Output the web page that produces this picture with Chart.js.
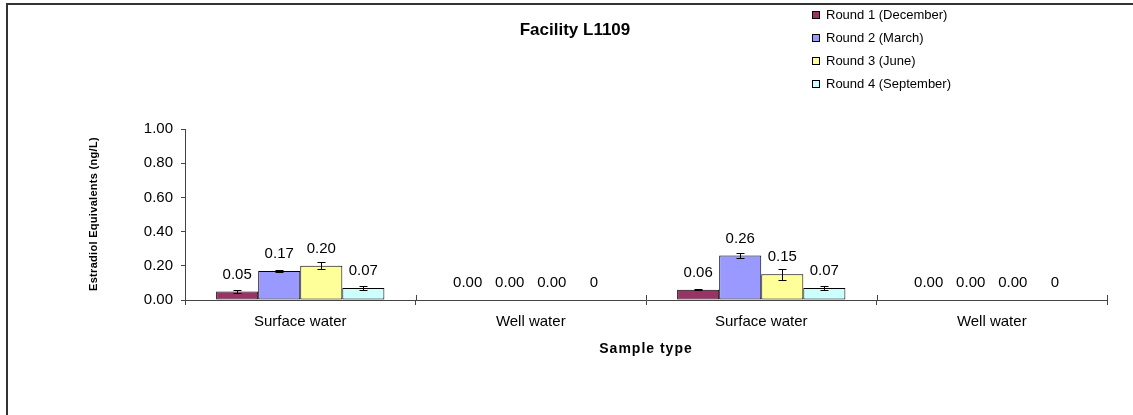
<!DOCTYPE html>
<html>
<head>
<meta charset="utf-8">
<script src="https://cdn.jsdelivr.net/npm/chart.js@4.4.1/dist/chart.umd.min.js"></script>
<style>
    html, body { margin: 0; padding: 0; background: #fff; }
    #wrap { width: 1133px; height: 415px; position: relative; }
</style>
</head>
<body>
<div id="wrap"><canvas id="facility_bar"></canvas></div>
<script>
const categories = ['Surface water', 'Well water', 'Surface water', 'Well water'];
const round_names = ['Round 1 (December)', 'Round 2 (March)', 'Round 3 (June)', 'Round 4 (September)'];
const round_colors = ['#993366', '#9999FF', '#FFFF99', '#CCFFFF'];

// one array per round, one value per category
const round1_values = [0.05, 0, 0.06, 0];
const round2_values = [0.17, 0, 0.26, 0];
const round3_values = [0.20, 0, 0.15, 0];
const round4_values = [0.07, 0, 0.07, 0];

const round1_errors = [0.010, 0, 0.002, 0];
const round2_errors = [0.007, 0, 0.017, 0];
const round3_errors = [0.021, 0, 0.032, 0];
const round4_errors = [0.011, 0, 0.011, 0];

const round1_labels = ['0.05', '0.00', '0.06', '0.00'];
const round2_labels = ['0.17', '0.00', '0.26', '0.00'];
const round3_labels = ['0.20', '0.00', '0.15', '0.00'];
const round4_labels = ['0.07', '0', '0.07', '0'];

const y_ticks = [0, 0.2, 0.4, 0.6, 0.8, 1.0];

const values = [round1_values, round2_values, round3_values, round4_values];
const errors = [round1_errors, round2_errors, round3_errors, round4_errors];
const labels = [round1_labels, round2_labels, round3_labels, round4_labels];

const FONT = "Arial, 'Liberation Sans', sans-serif";

const framePlugin = {
    id: 'frame',
    beforeDraw(chart) {
        const ctx = chart.ctx;
        ctx.save();
        ctx.fillStyle = '#fff';
        ctx.fillRect(0, 0, chart.width, chart.height);
        ctx.strokeStyle = '#333';
        ctx.lineWidth = 2;
        ctx.beginPath();
        ctx.moveTo(7, chart.height);
        ctx.lineTo(7, 4);
        ctx.lineTo(chart.width, 4);
        ctx.stroke();
        ctx.restore();
    }
};

const errorBarPlugin = {
    id: 'errorBars',
    afterDatasetsDraw(chart) {
        const ctx = chart.ctx;
        const y = chart.scales.y;
        ctx.save();
        ctx.strokeStyle = '#000';
        ctx.lineWidth = 1;
        chart.data.datasets.forEach((ds, di) => {
            const meta = chart.getDatasetMeta(di);
            meta.data.forEach((bar, i) => {
                const e = errors[di][i];
                if (!e) return;
                const v = ds.data[i];
                const x = Math.round(bar.x) + 0.5;
                const top = Math.round(y.getPixelForValue(v + e)) + 0.5;
                const bot = Math.round(y.getPixelForValue(v - e)) + 0.5;
                ctx.beginPath();
                ctx.moveTo(x, top); ctx.lineTo(x, bot);
                ctx.moveTo(x - 4, top); ctx.lineTo(x + 4, top);
                ctx.moveTo(x - 4, bot); ctx.lineTo(x + 4, bot);
                ctx.stroke();
            });
        });
        ctx.restore();
    }
};

const valueLabelPlugin = {
    id: 'valueLabels',
    afterDatasetsDraw(chart) {
        const ctx = chart.ctx;
        ctx.save();
        ctx.font = '15px ' + FONT;
        ctx.fillStyle = '#000';
        ctx.textAlign = 'center';
        ctx.textBaseline = 'middle';
        chart.data.datasets.forEach((ds, di) => {
            const meta = chart.getDatasetMeta(di);
            meta.data.forEach((bar, i) => {
                ctx.fillText(labels[di][i], bar.x, bar.y - 17);
            });
        });
        ctx.restore();
    }
};

// x ticks in the original cross the axis line, draw the part above it
const crossTickPlugin = {
    id: 'crossTicks',
    afterDraw(chart) {
        const ctx = chart.ctx;
        const x = chart.scales.x;
        const n = chart.data.labels.length;
        ctx.save();
        ctx.strokeStyle = '#444';
        ctx.lineWidth = 1;
        ctx.beginPath();
        for (let i = 0; i <= n; i++) {
            const px = Math.round(x.left + (x.right - x.left) * i / n) + 0.5;
            ctx.moveTo(px, x.top - 5);
            ctx.lineTo(px, x.top);
        }
        ctx.stroke();
        ctx.restore();
    }
};

const titleLegendPlugin = {
    id: 'titleLegend',
    afterDraw(chart) {
        const ctx = chart.ctx;
        const area = chart.chartArea;
        ctx.save();
        ctx.fillStyle = '#000';
        ctx.font = 'bold 17px ' + FONT;
        ctx.textAlign = 'center';
        ctx.textBaseline = 'middle';
        ctx.fillText('Facility L1109', 575, 30);

        // axis titles
        ctx.font = 'bold 14px ' + FONT;
        ctx.letterSpacing = '1px';
        ctx.fillText('Sample type', (area.left + area.right) / 2, 349);

        ctx.font = 'bold 11px ' + FONT;
        ctx.letterSpacing = '0.3px';
        ctx.translate(94, 214);
        ctx.rotate(-Math.PI / 2);
        ctx.fillText('Estradiol Equivalents (ng/L)', 0, 0);
        ctx.setTransform(1, 0, 0, 1, 0, 0);
        ctx.letterSpacing = '0px';

        ctx.font = '13px ' + FONT;
        ctx.textAlign = 'left';
        chart.data.datasets.forEach((ds, di) => {
            const cy = 15 + di * 23;
            ctx.fillStyle = ds.backgroundColor;
            ctx.fillRect(812.5, cy - 3.5, 7, 7);
            ctx.strokeStyle = '#000';
            ctx.lineWidth = 1;
            ctx.strokeRect(812.5, cy - 3.5, 7, 7);
            ctx.fillStyle = '#000';
            ctx.fillText(ds.label, 826, cy);
        });
        ctx.restore();
    }
};

const facility_bar = document.getElementById('facility_bar').getContext('2d');
new Chart(facility_bar, {
    type: 'bar',
    data: {
        labels: categories,
        datasets: round_names.map((name, di) => ({
            label: name,
            data: values[di],
            backgroundColor: round_colors[di],
            borderColor: '#000',
            borderWidth: 1,
            borderSkipped: false,
            categoryPercentage: 0.73,
            barPercentage: 1.0
        }))
    },
    options: {
        responsive: true,
        maintainAspectRatio: false,
        animation: false,
        layout: {
            padding: { top: 129, left: 88, right: 26, bottom: 57 }
        },
        plugins: {
            legend: { display: false },
            title: { display: false },
            tooltip: { enabled: false }
        },
        scales: {
            x: {
                grid: {
                    display: true,
                    offset: true,
                    drawOnChartArea: false,
                    drawTicks: true,
                    tickLength: 5,
                    color: '#444'
                },
                border: { display: true, color: '#444' },
                ticks: {
                    color: '#000',
                    font: { size: 15, family: FONT },
                    padding: 8,
                    maxRotation: 0
                },
                afterFit(scale) { scale.height = 58; }
            },
            y: {
                min: 0,
                max: 1,
                afterBuildTicks(scale) {
                    scale.ticks = y_ticks.map(v => ({ value: v }));
                },
                grid: {
                    display: true,
                    drawOnChartArea: false,
                    drawTicks: true,
                    tickLength: 4,
                    color: '#444'
                },
                border: { display: true, color: '#444' },
                ticks: {
                    color: '#000',
                    font: { size: 15, family: FONT },
                    padding: 8,
                    callback: v => Number(v).toFixed(2)
                },
                afterFit(scale) { scale.width = 97; }
            }
        }
    },
    plugins: [framePlugin, errorBarPlugin, valueLabelPlugin, crossTickPlugin, titleLegendPlugin]
});
</script>
</body>
</html>
